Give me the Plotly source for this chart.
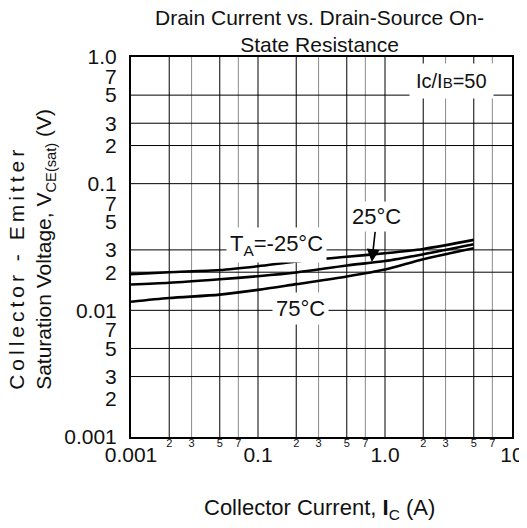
import plotly.graph_objects as go
import numpy as np

# collector current (axis units), Vce(sat) per ambient temperature
current = [0.01, 0.02, 0.05, 0.1, 0.2, 0.5, 1, 2, 5]
vce_m25 = [0.0193, 0.0200, 0.0208, 0.0223, 0.0243, 0.0265, 0.0282, 0.0305, 0.0360]
vce_25 = [0.0160, 0.0165, 0.0176, 0.0186, 0.0199, 0.0226, 0.0245, 0.0277, 0.0332]
vce_75 = [0.0117, 0.0125, 0.0133, 0.0145, 0.0161, 0.0185, 0.0210, 0.0253, 0.0309]

x_ticks = [0.01, 0.02, 0.03, 0.05, 0.07, 0.1, 0.2, 0.3, 0.5, 0.7, 1, 2, 3, 5, 7, 10]
x_text = ["0.001", "2", "3", "5", "7", "0.1", "2", "3", "5", "7",
          "1.0", "2", "3", "5", "7", "10"]
x_grid_dark = [0.02, 0.05, 0.1, 0.2, 0.5, 1, 2, 5]
x_grid_gray = [0.03, 0.07, 0.3, 0.7, 3, 7]

y_ticks = [0.001, 0.002, 0.003, 0.005, 0.007, 0.01, 0.02, 0.03, 0.05, 0.07,
           0.1, 0.2, 0.3, 0.5, 0.7, 1]
y_text = ["0.001", "2", "3", "5", "7", "0.01", "2", "3", "5", "7",
          "0.1", "2", "3", "5", "7", "1.0"]
y_grid = [0.003, 0.005, 0.01, 0.02, 0.03, 0.1, 0.2, 0.3, 0.5]

FONT = "Liberation Sans, Arial, sans-serif"
INK = "#111111"


def xlabel(t):
    # decade labels are big and sit one line lower than the small 2/3/5/7
    if t in ("2", "3", "5", "7"):
        return t
    return "<br><span style='font-size:21px'>" + t + "</span>"


fig = go.Figure()
for vals in [vce_m25, vce_25, vce_75]:
    fig.add_trace(go.Scatter(x=current, y=vals, mode="lines",
                             line=dict(color="black", width=2.6, shape="spline", smoothing=0.8),
                             showlegend=False, hoverinfo="skip"))

# grid
for v in x_grid_dark:
    fig.add_shape(type="line", xref="x", yref="paper", x0=v, x1=v, y0=0, y1=1,
                  line=dict(color="black", width=1), layer="below")
for v in x_grid_gray:
    fig.add_shape(type="line", xref="x", yref="paper", x0=v, x1=v, y0=0, y1=1,
                  line=dict(color="#8a8a8a", width=1), layer="below")
for v in y_grid:
    fig.add_shape(type="line", xref="paper", yref="y", x0=0, x1=1, y0=v, y1=v,
                  line=dict(color="black", width=1), layer="below")

# page body has an 8px margin, so the figure is 8px smaller and shifted
fig.update_layout(
    width=519, height=520,
    margin=dict(l=123, r=15, t=49, b=91, autoexpand=False),
    paper_bgcolor="white", plot_bgcolor="white",
    font=dict(family=FONT, color=INK),
    xaxis=dict(type="log", range=[-2, 1], tickmode="array", tickvals=x_ticks,
               ticktext=[xlabel(t) for t in x_text], tickangle=0, ticklabelstandoff=-5,
               tickfont=dict(size=11), ticks="", showgrid=False, automargin=False,
               showline=True, linecolor="black", linewidth=2, mirror=True, zeroline=False),
    yaxis=dict(type="log", range=[-3, 0], tickmode="array", tickvals=y_ticks, ticktext=y_text,
               tickfont=dict(size=21), ticks="", ticklabelstandoff=8, showgrid=False,
               automargin=False,
               showline=True, linecolor="black", linewidth=2, mirror=True, zeroline=False),
)

# curve labels
label_font = dict(family=FONT, size=22, color=INK)
fig.add_annotation(x=np.log10(0.141), y=np.log10(0.0328), text="T<sub>A</sub>=-25°C",
                   showarrow=False, bgcolor="white", borderpad=3, font=label_font)
fig.add_annotation(x=np.log10(0.787), y=np.log10(0.0241), text="25°C", ax=5, ay=-45,
                   showarrow=True, arrowhead=2, arrowsize=1.6, arrowwidth=1.6, arrowcolor="black",
                   standoff=0, bgcolor="white", borderpad=2, font=label_font)
fig.add_annotation(x=np.log10(0.218), y=np.log10(0.01026), text="75°C",
                   showarrow=False, bgcolor="white", borderpad=3, font=label_font)
fig.add_annotation(x=np.log10(3.34), y=np.log10(0.647),
                   text="Ic/I<span style='font-size:15px'>B</span>=50",
                   showarrow=False, bgcolor="white", borderpad=6,
                   font=dict(family=FONT, size=20, color=INK))

# titles
fig.add_annotation(xref="paper", yref="paper", x=0.496, y=1.069, xanchor="center", yanchor="middle",
                   text="Drain Current vs. Drain-Source On-<br>State Resistance", showarrow=False,
                   font=dict(family=FONT, size=21, color=INK))
fig.add_annotation(xref="paper", yref="paper", x=0.496, y=-0.19, xanchor="center", yanchor="middle",
                   text="Collector Current, <b>I</b><sub>C</sub> (A)", showarrow=False,
                   font=dict(family=FONT, size=22, color=INK))
fig.add_annotation(xref="paper", yref="paper", x=-0.26, y=0.495, xanchor="center", yanchor="middle",
                   textangle=-90, align="left",
                   text="<span style='letter-spacing:4px'>Collector - Emitter</span><br>"
                        "Saturation Voltage, V<sub>CE(sat)</sub> (V)",
                   showarrow=False, font=dict(family=FONT, size=21, color=INK))

fig.write_html("out.html")
